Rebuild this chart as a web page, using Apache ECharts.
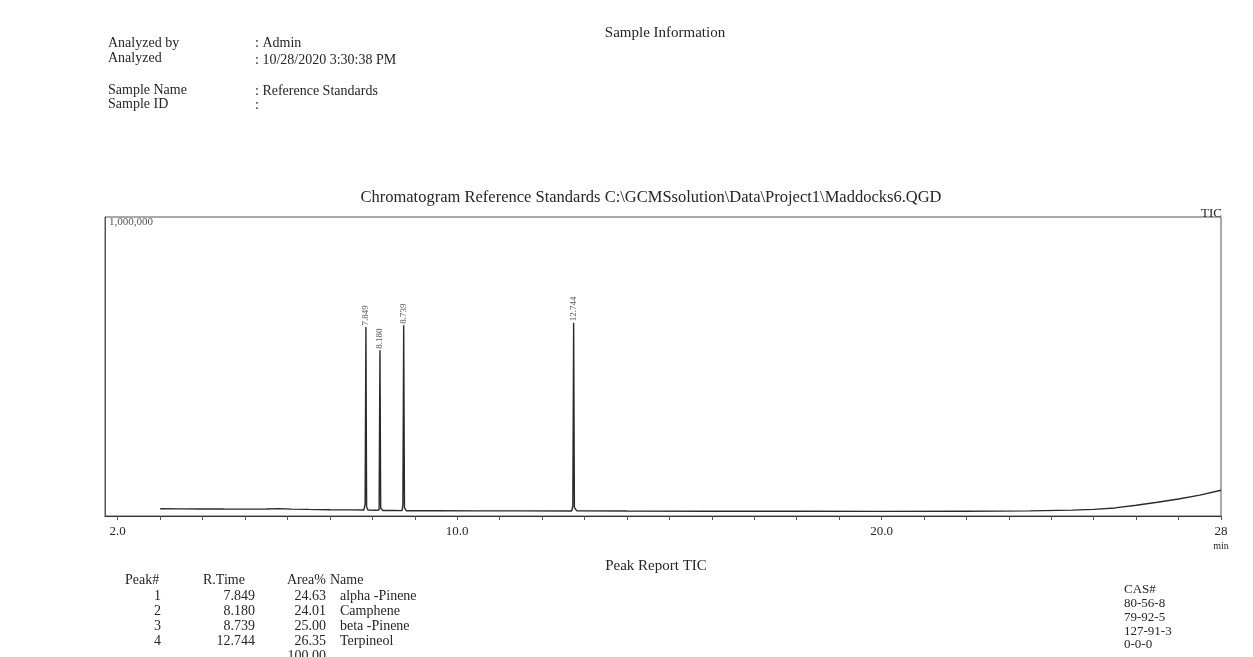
<!DOCTYPE html>
<html>
<head>
<meta charset="utf-8">
<script src="https://cdn.jsdelivr.net/npm/echarts@6/dist/echarts.min.js"></script>
<style>
  html, body { margin: 0; padding: 0; background: #fff; }
  #chart { width: 1253px; height: 657px; }
</style>
</head>
<body>
<div id="chart"></div>
<script>
// TIC trace, [retention time (min), intensity]
const ticTrace = [
  [3.00, 24000], [3.5, 23800], [4.0, 23500], [4.5, 23200], [5.0, 23000],
  [5.5, 23600], [5.8, 24500], [6.1, 23000], [6.5, 22000], [7.0, 21000],
  [7.5, 20500], [7.80, 20000], [7.83, 40000], [7.849, 632000], [7.865, 30000],
  [7.90, 19500], [8.10, 19000], [8.16, 21000], [8.180, 554000], [8.197, 26000],
  [8.25, 18500], [8.50, 18200], [8.70, 18000], [8.72, 36000], [8.739, 638000],
  [8.757, 28000], [8.80, 17500], [9.5, 17500], [10.5, 17200], [11.5, 17000],
  [12.70, 16800], [12.725, 35000], [12.744, 646000], [12.762, 28000], [12.82, 17000],
  [14.0, 16500], [16.0, 16000], [18.0, 15800], [20.0, 15500], [22.0, 16000],
  [23.5, 17000], [24.5, 19500], [25.0, 22000], [25.5, 27000], [26.0, 36000],
  [26.5, 46000], [27.0, 57000], [27.5, 70000], [28.0, 86000]
];

const peakTimes = [7.849, 8.180, 8.739, 12.744];
const peakNos = ['1', '2', '3', '4'];
const rTimeLabels = ['7.849', '8.180', '8.739', '12.744'];
const areaPct = ['24.63', '24.01', '25.00', '26.35'];
const areaTotal = '100.00';
const peakNames = ['alpha -Pinene', 'Camphene', 'beta -Pinene', 'Terpineol'];
const casNos = ['80-56-8', '79-92-5', '127-91-3', '0-0-0'];

const xTickValues = [2, 3, 4, 5, 6, 7, 8, 9, 10, 11, 12, 13, 14, 15, 16, 17, 18, 19, 20, 21, 22, 23, 24, 25, 26, 27, 28];
const xLabelValues = [2, 10, 20, 28];
const yMax = 1000000;

const serif = '"Liberation Serif", "DejaVu Serif", serif';
const ink = '#262626';

const chart = echarts.init(document.getElementById('chart'));

const apexPoints = ticTrace.filter(p => peakTimes.includes(p[0]));

const txt = (x, y, text, size, extra) => ({
  type: 'text',
  x: x,
  y: y,
  style: Object.assign({
    text: text,
    font: size + 'px ' + serif,
    fill: ink,
    verticalAlign: 'middle'
  }, extra || {})
});

const option = {
  backgroundColor: '#fff',
  animation: false,
  grid: {
    left: 105,
    right: 32,
    top: 217,
    bottom: 141,
    show: true,
    borderColor: '#555',
    borderWidth: 1
  },
  xAxis: {
    type: 'value',
    min: 1.7,
    max: 28,
    axisLine: { show: true, lineStyle: { color: '#333', width: 1.2 } },
    splitLine: { show: false },
    axisTick: {
      show: true,
      customValues: xTickValues,
      length: 4,
      lineStyle: { color: '#555' }
    },
    axisLabel: {
      customValues: xLabelValues,
      margin: 8,
      fontFamily: serif,
      fontSize: 13,
      color: ink,
      lineHeight: 15,
      formatter: v => (v === 28 ? '28\n{u|min}' : v.toFixed(1)),
      rich: { u: { fontFamily: serif, fontSize: 10, color: ink } }
    }
  },
  yAxis: {
    type: 'value',
    min: 0,
    max: yMax,
    axisLine: { show: true, lineStyle: { color: '#555' } },
    axisTick: { show: false },
    splitLine: { show: false },
    axisLabel: {
      inside: true,
      customValues: [yMax],
      verticalAlign: 'top',
      margin: 4,
      fontFamily: serif,
      fontSize: 11,
      color: '#555',
      formatter: () => '1,000,000'
    }
  },
  series: [
    {
      type: 'line',
      data: ticTrace,
      showSymbol: false,
      symbol: 'none',
      lineStyle: { color: '#2a2a2a', width: 1.4 }
    },
    {
      type: 'scatter',
      data: apexPoints,
      symbolSize: 1,
      itemStyle: { color: 'transparent' },
      label: {
        show: true,
        position: 'top',
        rotate: 90,
        align: 'left',
        verticalAlign: 'middle',
        distance: 1,
        fontFamily: serif,
        fontSize: 9,
        color: ink,
        formatter: p => rTimeLabels[peakTimes.indexOf(p.value[0])]
      }
    }
  ],
  graphic: [
    txt(665, 33, 'Sample Information', 15, { align: 'center' }),
    txt(108, 43, 'Analyzed by', 14),
    txt(108, 58, 'Analyzed', 14),
    txt(108, 90, 'Sample Name', 14),
    txt(108, 104, 'Sample ID', 14),
    txt(255, 43, ': Admin', 14),
    txt(255, 60, ': 10/28/2020 3:30:38 PM', 14),
    txt(255, 91, ': Reference Standards', 14),
    txt(255, 105, ':', 14),
    txt(651, 198, 'Chromatogram Reference Standards C:\\GCMSsolution\\Data\\Project1\\Maddocks6.QGD', 16.5, { align: 'center' }),
    txt(1222, 214, 'TIC', 13, { align: 'right' }),
    txt(656, 566, 'Peak Report TIC', 15, { align: 'center' }),
    // peak table
    txt(125, 580, 'Peak#', 14),
    txt(203, 580, 'R.Time', 14),
    txt(287, 580, 'Area%', 14),
    txt(330, 580, 'Name', 14),
    txt(161, 596, peakNos.join('\n'), 14, { align: 'right', lineHeight: 15 }),
    txt(255, 596, rTimeLabels.join('\n'), 14, { align: 'right', lineHeight: 15 }),
    txt(326, 596, areaPct.concat([areaTotal]).join('\n'), 14, { align: 'right', lineHeight: 15 }),
    txt(340, 596, peakNames.join('\n'), 14, { lineHeight: 15 }),
    txt(1124, 590, ['CAS#'].concat(casNos).join('\n'), 13, { lineHeight: 13.7 })
  ].map(g => {
    // multi-line blocks: anchor the first line at the given y
    if (g.style.lineHeight) {
      g.y = g.y - g.style.lineHeight / 2;
      g.style.verticalAlign = 'top';
    }
    return g;
  })
};

chart.setOption(option);
</script>
</body>
</html>
